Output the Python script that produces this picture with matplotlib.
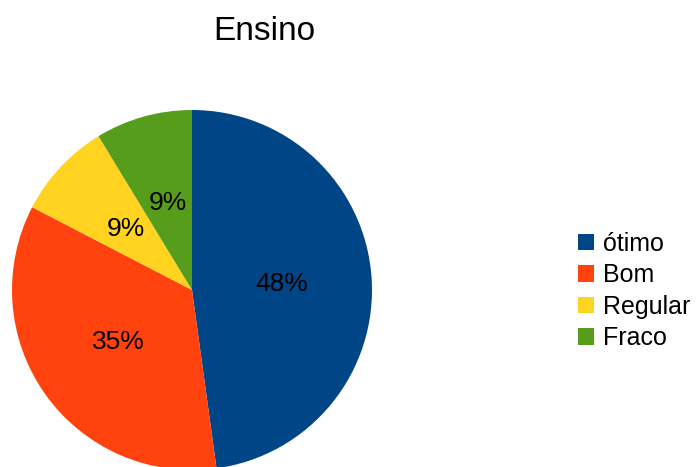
import numpy as np
import matplotlib.pyplot as plt

# respostas por categoria (23 no total)
labels = ["ótimo", "Bom", "Regular", "Fraco"]
counts = [11, 8, 2, 2]
colors = ["#004586", "#ff420e", "#ffd320", "#579d1c"]

plt.rcParams["font.family"] = ["Liberation Sans", "DejaVu Sans"]

fig = plt.figure(figsize=(6.99, 4.67), dpi=100)
# square axes so the pie center sits at (192, 290) px, radius 180 px
ax = fig.add_axes([12 / 699, -3 / 467, 360 / 699, 360 / 467])

wedges, texts = ax.pie(
    counts,
    colors=colors,
    startangle=90,
    counterclock=False,
    radius=1,
    wedgeprops={"linewidth": 0},
)
total = sum(counts)

for w, c in zip(wedges, counts):
    ang = np.deg2rad((w.theta1 + w.theta2) / 2)
    ax.text(
        0.5 * np.cos(ang),
        0.5 * np.sin(ang),
        "%d%%" % round(100 * c / total),
        ha="center",
        va="center",
        fontsize=19,
        color="black",
    )
for w in wedges:
    w.set_clip_on(False)
ax.set_xlim(-1, 1)
ax.set_ylim(-1, 1)
ax.set_aspect("equal")

fig.text(264 / 699, 1 - 32 / 467, "Ensino", ha="center", va="center", fontsize=24)

fig.legend(
    wedges,
    labels,
    loc="center left",
    bbox_to_anchor=(578 / 699, 1 - 291 / 467),
    frameon=False,
    fontsize=18,
    handlelength=0.65,
    handleheight=0.65,
    handletextpad=0.35,
    labelspacing=0.3,
    borderpad=0,
    borderaxespad=0,
)

fig.savefig("out.png", dpi=100)
